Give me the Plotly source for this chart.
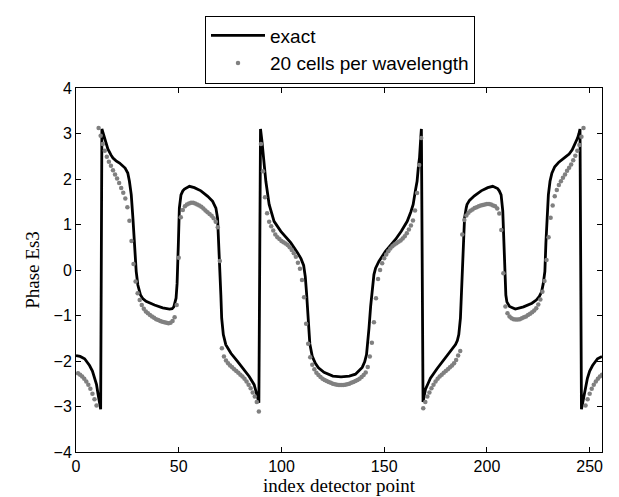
import plotly.graph_objects as go

# ---- data ----
exact_x = [0, 2, 4.2, 6.6, 8, 9.1, 10, 10.7, 11.4, 12.0, 12.6, 13.2, 13.9, 15.5, 17, 18.0, 19.5, 21.2, 23.9, 25.2,
           26.0, 26.9, 27.7, 28.5, 29.3, 30.1, 31.4, 32.5, 34.1, 38.2, 42.2, 45.5, 46.8, 47.6, 48.3, 48.7, 49.2, 49.5, 49.8, 50.3,
           51.1, 52.0, 52.8, 55.2, 57.6, 60.8, 64.1, 66.5, 68.1, 68.9, 69.4, 70.1, 70.5, 70.9, 71.7, 72.9, 75.4, 78.6, 81.9, 84.3,
           86.7, 88.0, 88.5, 89.0, 89.8, 90.5, 91.3, 92.4, 94.0, 96.4, 99.7, 104.5, 107.8, 109.5, 110.8, 111.6, 112.2, 112.9, 113.8, 115.0,
           116.5, 118.0, 120.7, 125.0, 129.0,
           133.0, 136.0, 139.3, 140.5, 141.4, 142.0, 142.6, 143.4, 144.2, 145.0,
           145.8, 147.4, 150.6, 155.5, 158.3, 161.2, 163.0, 164.1, 165.2, 166.0,
           166.7, 167.2, 167.8, 168.1, 168.9, 169.5, 170.1, 171.3, 172.5, 175.7,
           179.4, 182.6, 184.7, 185.6, 186.3, 187.1, 187.5, 187.9, 188.6, 189.1,
           189.9, 190.3, 191.5, 193.9, 197.2, 200.4, 202.8, 205.2, 206.0, 206.9,
           207.7, 208.2, 208.5, 208.8, 209.2, 209.7, 211.0, 213.8, 217.8, 221.9,
           224.0, 225.5, 226.6, 227.4, 228.2, 228.7, 229.2, 229.9, 230.7, 231.6,
           233.0, 235.0, 238.1, 240.0, 241.5, 243.0, 244.1, 244.8, 245.3, 246.0,
           246.6, 247.3, 248.0, 248.9, 250.0, 251.4, 253.8, 256.0]
exact_y = [-1.88, -1.90, -1.95, -2.10, -2.22, -2.38, -2.52, -2.72, -2.92, -3.06, 3.10, 3.00, 2.90, 2.66, 2.53, 2.46, 2.40, 2.35, 2.24, 2.13,
           1.95, 1.65, 1.14, 0.55, -0.03, -0.33, -0.55, -0.63, -0.69, -0.77, -0.83, -0.86, -0.85, -0.81, -0.72, -0.62, -0.30, -0.03, 0.55, 1.36,
           1.65, 1.74, 1.78, 1.84, 1.81, 1.74, 1.62, 1.51, 1.36, 1.14, 0.70, -0.03, -0.55, -1.06, -1.42, -1.64, -1.83, -2.01, -2.19, -2.34,
           -2.52, -2.71, -2.82, -2.92, 3.10, 2.83, 2.47, 1.95, 1.44, 1.07, 0.85, 0.60, 0.38, 0.25, 0.10, -0.15, -0.50, -1.10, -1.62, -1.90,
           -2.05, -2.15, -2.25, -2.33, -2.35,
           -2.33, -2.29, -2.14, -2.02, -1.86, -1.60, -1.28, -0.80, -0.40, -0.10,
           0.04, 0.19, 0.41, 0.67, 0.85, 1.07, 1.28, 1.44, 1.75, 1.95,
           2.30, 2.47, 2.91, 3.10, -2.90, -2.78, -2.62, -2.50, -2.38, -2.17,
           -1.96, -1.78, -1.64, -1.55, -1.42, -1.06, -0.55, -0.03, 0.70, 1.14,
           1.36, 1.44, 1.53, 1.63, 1.74, 1.81, 1.84, 1.79, 1.74, 1.65,
           1.30, 0.55, -0.03, -0.30, -0.55, -0.70, -0.80, -0.86, -0.81, -0.73,
           -0.66, -0.58, -0.48, -0.30, -0.03, 0.60, 1.14, 1.65, 1.95, 2.13,
           2.27, 2.37, 2.48, 2.55, 2.64, 2.78, 2.90, 3.00, 3.10, -3.06,
           -2.92, -2.72, -2.52, -2.38, -2.22, -2.10, -1.95, -1.90]

cells_x = list(range(1, 257))
cells_y = [-2.27, -2.30, -2.34, -2.39, -2.45, -2.52, -2.61, -2.72, -2.84, -2.98,
           3.12, 2.95, 2.77, 2.62, 2.49, 2.38, 2.29, 2.19, 2.10, 2.01,
           1.91, 1.80, 1.70, 1.57, 1.38, 1.08, 0.64, 0.13, -0.25, -0.51,
           -0.66, -0.77, -0.85, -0.91, -0.95, -0.99, -1.02, -1.05, -1.08, -1.10,
           -1.12, -1.14, -1.15, -1.16, -1.17, -1.16, -1.12, -1.04, -0.77, 0.27,
           1.16, 1.32, 1.40, 1.44, 1.46, 1.48, 1.48, 1.46, 1.44, 1.42,
           1.39, 1.35, 1.31, 1.27, 1.23, 1.19, 1.14, 1.06, 0.94, 0.20,
           -1.72, -1.90, -1.99, -2.05, -2.10, -2.14, -2.18, -2.22, -2.26, -2.30,
           -2.34, -2.39, -2.45, -2.52, -2.60, -2.69, -2.78, -2.90, -3.11, 2.77,
           2.17, 1.60, 1.25, 1.06, 0.96, 0.87, 0.78, 0.72, 0.68, 0.64,
           0.61, 0.58, 0.55, 0.50, 0.44, 0.37, 0.29, 0.16, 0.03, -0.22,
           -0.60, -1.18, -1.62, -1.92, -2.08, -2.18, -2.26, -2.31, -2.35, -2.39,
           -2.42, -2.44, -2.46, -2.48, -2.50, -2.51, -2.52, -2.53, -2.53, -2.53,
           -2.52, -2.51, -2.50, -2.48, -2.46, -2.44, -2.42, -2.39, -2.35, -2.31,
           -2.25, -2.13, -1.90, -1.60, -1.15, -0.62, -0.20, 0.00, 0.15, 0.26,
           0.34, 0.41, 0.47, 0.52, 0.56, 0.59, 0.62, 0.65, 0.69, 0.74,
           0.81, 0.89, 0.98, 1.09, 1.31, 1.69, 2.31, 2.90, -3.04, -2.90,
           -2.78, -2.69, -2.60, -2.52, -2.45, -2.39, -2.34, -2.30, -2.26, -2.22,
           -2.18, -2.14, -2.10, -2.05, -1.98, -1.88, -1.78, 0.78, 1.10, 1.20,
           1.26, 1.30, 1.33, 1.36, 1.38, 1.40, 1.42, 1.43, 1.44, 1.45,
           1.45, 1.44, 1.42, 1.40, 1.35, 1.24, 0.88, -0.07, -0.80, -0.95,
           -1.02, -1.06, -1.08, -1.09, -1.09, -1.08, -1.06, -1.04, -1.02, -0.99,
           -0.96, -0.93, -0.89, -0.84, -0.76, -0.65, -0.48, -0.24, 0.22, 0.72,
           1.15, 1.42, 1.62, 1.76, 1.87, 1.95, 2.03, 2.10, 2.18, 2.25,
           2.32, 2.41, 2.51, 2.62, 2.75, 2.93, 3.12, -2.98, -2.84, -2.72,
           -2.61, -2.52, -2.45, -2.39, -2.34, -2.30]

x_ticks = [0, 50, 100, 150, 200, 250]
y_ticks = [-4, -3, -2, -1, 0, 1, 2, 3, 4]

fig = go.Figure()
fig.add_trace(go.Scatter(x=exact_x, y=exact_y, mode="lines", name="exact",
                         line=dict(color="black", width=2.8)))
fig.add_trace(go.Scatter(x=cells_x, y=cells_y, mode="markers", name="20 cells per wavelength",
                         marker=dict(color="#808080", size=4.5, line=dict(width=0))))

axis_common = dict(showline=True, linecolor="black", linewidth=1, mirror="ticks",
                   ticks="inside", ticklen=5, tickcolor="black", tickwidth=1,
                   showgrid=False, zeroline=False, automargin=False,
                   tickfont=dict(family="Liberation Sans, Arial", size=16, color="black"))

fig.update_layout(
    width=619, height=497,
    margin=dict(l=68, r=25, t=80, b=53, autoexpand=False),
    plot_bgcolor="white", paper_bgcolor="white",
    xaxis=dict(range=[0, 256], tickvals=x_ticks,
               title=dict(text="index detector point", standoff=2,
                          font=dict(family="Liberation Serif, Times New Roman", size=19, color="black")),
               **axis_common),
    yaxis=dict(range=[-4, 4], tickvals=y_ticks,
               title=dict(text="Phase Es3", standoff=8,
                          font=dict(family="Liberation Serif, Times New Roman", size=19, color="black")),
               **axis_common),
    legend=dict(xref="container", x=332 / 619, xanchor="center",
                yref="container", y=1 - 7.5 / 497, yanchor="top",
                bordercolor="black", borderwidth=1, bgcolor="white",
                itemwidth=54, tracegroupgap=0,
                font=dict(family="Liberation Sans, Arial", size=19, color="black")),
)

fig.write_html("out.html")
